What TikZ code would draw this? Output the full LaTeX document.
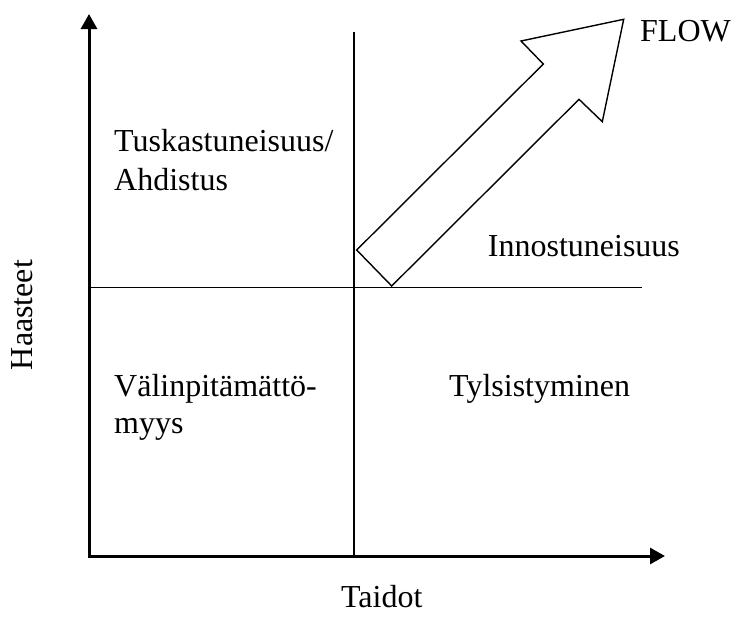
\documentclass[tikz,border=0pt]{standalone}
\usepackage{fontspec}
\setmainfont{Liberation Serif}
\usetikzlibrary{arrows.meta}
\begin{document}
\begin{tikzpicture}[x=1pt,y=-1pt,
  axis/.style={line width=3pt,-{Triangle[length=15pt,width=16pt]}},
  divider/.style={line width=1.5pt},
  flowarrow/.style={line width=1.4pt,fill=white,line join=miter},
  lbl/.style={inner sep=0pt,font=\fontsize{32}{38}\selectfont}]
\useasboundingbox (0,0) rectangle (732,619);

% axes
\coordinate (origin) at (89,556);
\coordinate (ytop) at (89,14);
\coordinate (xend) at (665,556);
\draw[axis] (origin) -- (ytop);
\draw[axis] (origin) -- (xend);
\fill (87.5,554.5) rectangle (90.5,557.5);

% quadrant dividers
\coordinate (vtop) at (354,32);
\coordinate (vbot) at (354,556);
\coordinate (hleft) at (89,287.5);
\coordinate (hright) at (642,287.5);
\draw[divider] (vtop) -- (vbot);
\draw[divider] (hleft) -- (hright);

% block arrow towards flow
\draw[flowarrow] (356.7,250) -- (543.3,64) -- (521,41) -- (623.7,19.3)
  -- (602.3,121.7) -- (579,99.3) -- (391.7,286) -- cycle;

% labels
\node[lbl,anchor=base west] (flow) at (640,41.7) {FLOW};
\node[lbl,anchor=base west] (tuska) at (114,151.7) {Tuskastuneisuus/};
\node[lbl,anchor=base west] (ahdistus) at (114,190) {Ahdistus};
\node[lbl,anchor=base west] (innostus) at (487.7,256.7) {Innostuneisuus};
\node[lbl,anchor=base west] (valinpita) at (114,396.7) {Välinpitämättö-};
\node[lbl,anchor=base west] (myys) at (114,433.3) {myys};
\node[lbl,anchor=base west] (tylsis) at (449,396.7) {Tylsistyminen};
\node[lbl,anchor=base,rotate=90] (haasteet) at (32,315) {Haasteet};
\node[lbl,anchor=base] (taidot) at (381.7,607.7) {Taidot};
\end{tikzpicture}
\end{document}
